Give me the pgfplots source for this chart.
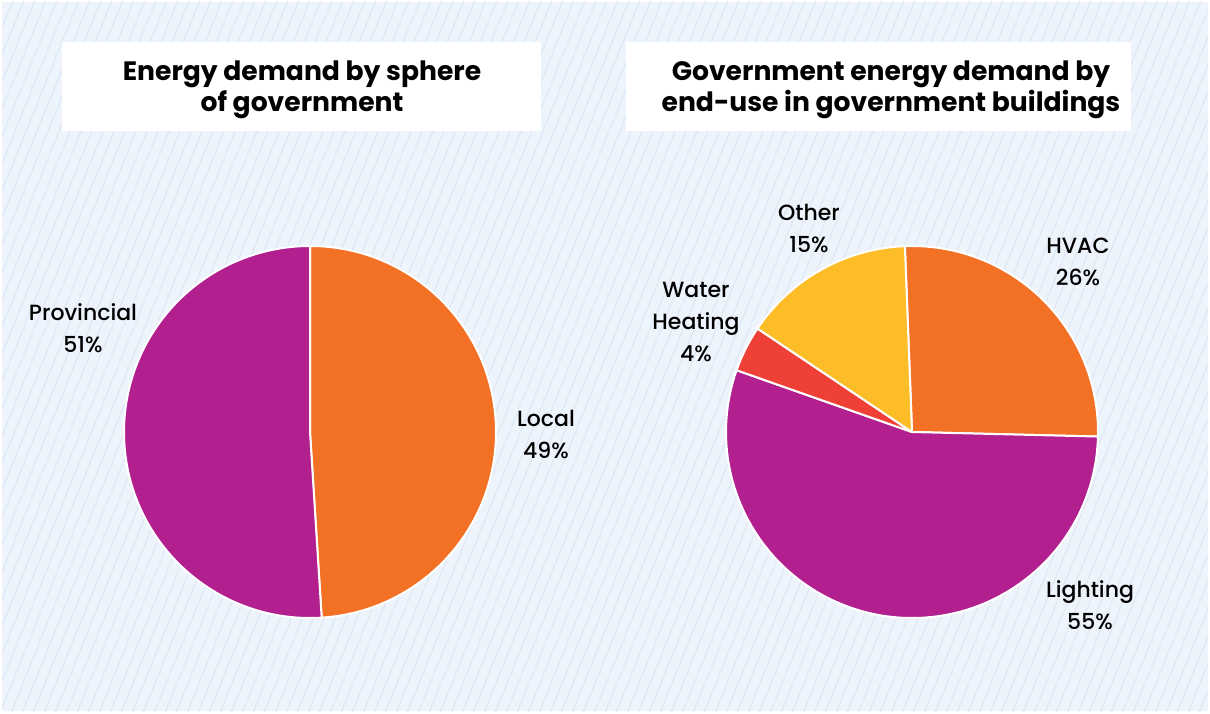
\documentclass[border=0pt]{standalone}
\usepackage{pgfplots}
\pgfplotsset{compat=1.18}
\usepackage{fontspec}
\setmainfont{Poppins}
\newfontfamily\labfont{Poppins Medium}
\definecolor{bg}{HTML}{EEF4FC}
\definecolor{hatch}{HTML}{DDE7F4}
\definecolor{corange}{HTML}{F37124}
\definecolor{cmagenta}{HTML}{B21F8E}
\definecolor{cyellow}{HTML}{FDBD27}
\definecolor{cred}{HTML}{EE4037}
% cx cy startangle cumulative value colour
\newcommand{\pieslice}[6]{%
  \fill[#6, draw=white, line width=1pt, line join=round] (axis cs:#1,#2) -- ++({#3-3.6*#4}:93pt)
    arc[start angle={#3-3.6*#4}, delta angle={-3.6*#5}, radius=93pt] -- cycle;}
\begin{document}
\begin{tikzpicture}
\useasboundingbox (0,0) rectangle (605pt,356.5pt);
\fill[white] (0,0) rectangle (605pt,356.5pt);
\fill[bg] (1pt,1pt) rectangle (604pt,355.5pt);
\begin{scope}
\clip (1pt,1pt) rectangle (604pt,355.5pt);
\foreach \i in {-40,...,112} \draw[hatch, line width=0.5pt] ({\i*5.5pt},0) -- ++(68:400pt);
\end{scope}
\begin{axis}[at={(0,0)}, anchor=south west, x=0.5pt, y=0.5pt,
  xmin=0, xmax=1210, ymin=0, ymax=713, y dir=reverse, hide axis, clip=false]
% title boxes
\fill[white] (axis cs:62,42) rectangle (axis cs:541,131);
\fill[white] (axis cs:626,42) rectangle (axis cs:1131,131);
\node[font=\fontsize{13.3}{15.5}\selectfont\bfseries, align=center, text=black] at (axis cs:302,90) {Energy demand by sphere\\of government};
\node[font=\fontsize{13.3}{15.5}\selectfont\bfseries, align=center, text=black] at (axis cs:891,90) {Government energy demand by\\end-use in government buildings};
% left pie
\pieslice{310}{432}{90}{0}{49}{corange}
\pieslice{310}{432}{90}{49}{51}{cmagenta}
% right pie
\pieslice{912}{432}{92.2}{0}{26}{corange}
\pieslice{912}{432}{92.2}{26}{55}{cmagenta}
\pieslice{912}{432}{92.2}{81}{4}{cred}
\pieslice{912}{432}{92.2}{85}{15}{cyellow}
% labels
\tikzset{lab/.style={font=\labfont\fontsize{11}{16}\selectfont, align=center, text=black}}
\node[lab] at (axis cs:83,328) {Provincial\\51\%};
\node[lab] at (axis cs:546,434) {Local\\49\%};
\node[lab] at (axis cs:809,228) {Other\\15\%};
\node[lab] at (axis cs:1078,262) {HVAC\\26\%};
\node[lab] at (axis cs:696,322) {Water\\Heating\\4\%};
\node[lab] at (axis cs:1090,605) {Lighting\\55\%};
\end{axis}
\end{tikzpicture}
\end{document}
